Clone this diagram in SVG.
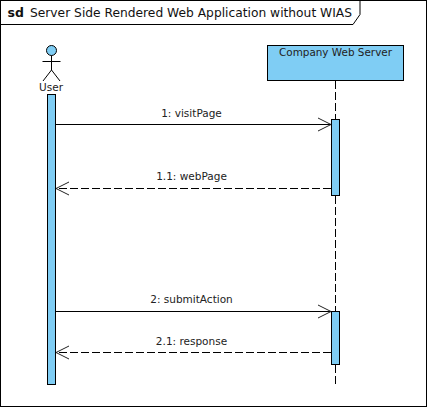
<svg xmlns="http://www.w3.org/2000/svg" width="427" height="408" viewBox="0 0 427 408">
<defs>
<style>
text{font-family:"DejaVu Sans","Liberation Sans",sans-serif;font-size:10.5px;fill:#222;}
.c{text-anchor:middle}
.box{fill:#7fcdf4;stroke:#000;stroke-width:1}
.ln{fill:none;stroke:#000;stroke-width:1}
.d{stroke-dasharray:8 3}
.ah{fill:none;stroke:#222;stroke-width:1}
</style>
<marker id="open" markerUnits="userSpaceOnUse" markerWidth="16" markerHeight="16" refX="13" refY="7" orient="auto-start-reverse" overflow="visible"><path class="ah" d="M0 0.5L13 7L0 13.5"/></marker>
</defs>
<rect width="427" height="408" fill="#fff"/>
<g id="frame">
<rect class="ln" x="0.5" y="0.5" width="426" height="406"/>
<path class="ln" d="M0.5 24.500H353L360 14.500V0.5"/>
<text x="7.5" y="17" style="font-weight:bold;font-size:12.5px;fill:#111">sd</text>
<text x="30" y="17" style="font-size:12.5px;fill:#111" textLength="322" lengthAdjust="spacingAndGlyphs">Server Side Rendered Web Application without WIAS</text>
</g>
<g id="connectors">
<path class="ln d" d="M335.500 81V120"/>
<path class="ln d" d="M335.500 196V311"/>
<path class="ln d" d="M335.500 365V387"/>
<path class="ln" d="M56 124.500H331" marker-end="url(#open)"/>
<path class="ln d" d="M331 188.500H56" marker-end="url(#open)"/>
<path class="ln" d="M56 311.500H331" marker-end="url(#open)"/>
<path class="ln d" d="M331 352.500H56" marker-end="url(#open)"/>
<text class="c" x="191.500" y="117">1: visitPage</text>
<text class="c" x="191.500" y="180">1.1: webPage</text>
<text class="c" x="191.500" y="303">2: submitAction</text>
<text class="c" x="191.500" y="345">2.1: response</text>
</g>
<g id="user">
<circle class="box" cx="51.500" cy="50.500" r="5"/>
<path class="ln" d="M51.500 55.500V70M42.500 61.500H60.500M51.500 70L43 81M51.500 70L60 81"/>
<text class="c" x="51" y="91">User</text>
<rect class="box" x="47.500" y="94.500" width="8" height="290"/>
</g>
<g id="server">
<rect class="box" x="267.500" y="45.500" width="136" height="35"/>
<text class="c" x="335.500" y="56" textLength="113" lengthAdjust="spacingAndGlyphs">Company Web Server</text>
<rect class="box" x="331.500" y="119.500" width="8" height="76"/>
<rect class="box" x="331.500" y="311.500" width="8" height="53"/>
</g>
</svg>
